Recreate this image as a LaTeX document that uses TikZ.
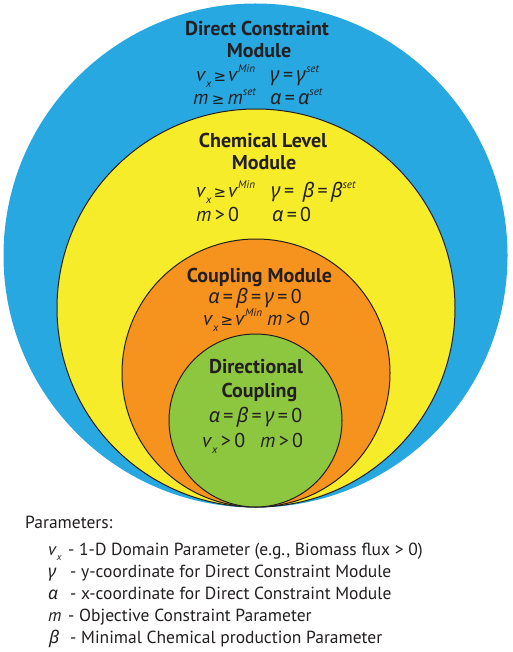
\documentclass[tikz,border=0pt]{standalone}
\usepackage{fontspec}
\usepackage{graphicx}
\setmainfont{PT Sans}
\newfontfamily\grkfont{Noto Sans}
\newfontfamily\symfont{DejaVu Sans}
\definecolor{cblue}{RGB}{40,168,224}
\definecolor{cyellow}{RGB}{246,236,42}
\definecolor{corange}{RGB}{246,146,30}
\definecolor{cgreen}{RGB}{141,198,63}
\definecolor{ink}{RGB}{35,31,32}
\newcommand\Ga{{\grkfont\itshape α}}
\newcommand\Gb{{\grkfont\itshape β}}
\newcommand\Gg{{\grkfont\itshape γ}}
\newcommand\mygeq{{\symfont\scalebox{0.75}{≥}}}
\newcommand\Sp[1]{\raisebox{0.45em}{\scalebox{0.55}{\itshape #1}}}
\newcommand\vx{\textit{v}\raisebox{-0.3em}{\scalebox{0.55}{\itshape x}}}
\newcommand\vgeq{\vx\kern2pt\mygeq\kern2pt\textit{v}\Sp{Min}}
\tikzset{
  ring/.style={circle, draw=ink, line width=1pt, inner sep=0pt},
  head/.style={font=\fontsize{20}{24}\selectfont\bfseries, text=ink, inner sep=0pt, anchor=base},
  eq/.style={font=\fontsize{20}{24}\selectfont, text=ink, inner sep=0pt, anchor=base},
  eqw/.style={eq, anchor=base west},
  par/.style={font=\fontsize{17.5}{21}\selectfont, text=ink, inner sep=0pt, anchor=base west}
}
\begin{document}
\begin{tikzpicture}[x=1pt,y=-1pt]
\fill[white] (0,0) rectangle (512,652);
\useasboundingbox (0,0) rectangle (512,652);
\node[circle, fill=cblue, inner sep=0pt, minimum size=504pt] (blue) at (255.5,255.5) {};
\node[ring, fill=cyellow, minimum size=398pt] (yellow) at (256,308) {};
\node[ring, fill=corange, minimum size=268pt] (orange) at (256,373) {};
\node[ring, fill=cgreen, minimum size=173pt] (green) at (255.5,420.5) {};
% blue
\node[head] (b1) at (257,36) {Direct Constraint};
\node[head] (b2) at (259,58) {Module};
\node[eqw] (b3) at (196,82) {\vgeq};
\node[eqw] (b4) at (270,82) {\Gg\,=\,\Gg\Sp{set}};
\node[eqw] (b5) at (193,105) {\textit{m}\,\mygeq\,\textit{m}\Sp{set}};
\node[eqw] (b6) at (270,105) {\Ga\,=\,\Ga\Sp{set}};
% yellow
\node[head] (y1) at (263,148) {Chemical Level};
\node[head] (y2) at (264,170) {Module};
\node[eqw] (y3) at (196,197) {\vgeq};
\node[eqw] (y4) at (271,197) {\Gg\,=\ \,\Gb\,=\,\Gb\Sp{set}};
\node[eqw] (y5) at (196,222) {\textit{m}\,>\,0};
\node[eqw] (y6) at (272,222) {\Ga\,=\,0};
% orange
\node[head] (o1) at (259.5,282) {Coupling Module};
\node[eq] (o2) at (255,303) {\Ga\,=\,\Gb\,=\,\Gg\,=\,0};
\node[eqw] (o3) at (203,325) {\vgeq};
\node[eqw] (o4) at (267,325) {\textit{m}\,>\,0};
% green
\node[head] (g1) at (256,373) {Directional};
\node[head] (g2) at (259.5,397) {Coupling};
\node[eq] (g3) at (255.5,422) {\Ga\,=\,\Gb\,=\,\Gg\,=\,0};
\node[eqw] (g4) at (202,447) {\vx\,>\,0};
\node[eqw] (g5) at (260,447) {\textit{m}\,>\,0};
% parameters
\node[par] (p0) at (25,528) {Parameters:};
\node[par] (p1s) at (48,555) {\vx};
\node[par] (p1) at (68,555) {- 1-D Domain Parameter (e.g., Biomass flux > 0)};
\node[par] (p2s) at (48,577) {\Gg};
\node[par] (p2) at (70,577) {- y-coordinate for Direct Constraint Module};
\node[par] (p3s) at (48,599) {\Ga};
\node[par] (p3) at (70,599) {- x-coordinate for Direct Constraint Module};
\node[par] (p4s) at (48,621) {\textit{m}};
\node[par] (p4) at (68,621) {- Objective Constraint Parameter};
\node[par] (p5s) at (49,643) {\Gb};
\node[par] (p5) at (70,643) {- Minimal Chemical production Parameter};
\end{tikzpicture}
\end{document}
